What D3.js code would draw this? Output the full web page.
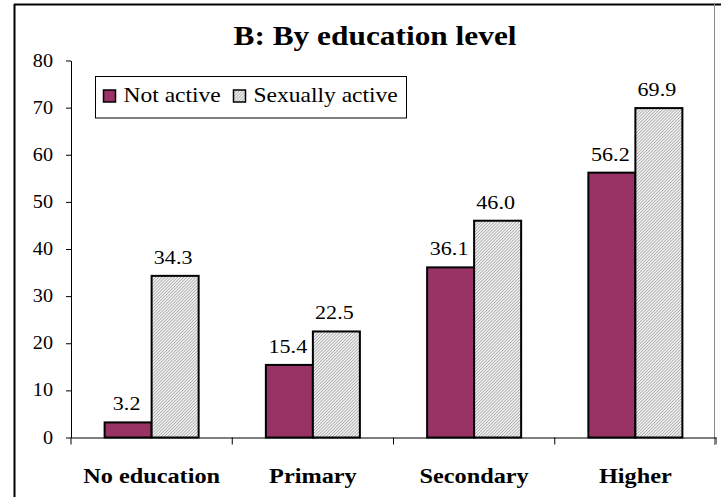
<!DOCTYPE html>
<html><head><meta charset="utf-8">
<script src="https://cdn.jsdelivr.net/npm/d3@7"></script>
<style>body{margin:0;background:#fff}svg{display:block}svg text{font-family:"Liberation Serif","Times New Roman",Times,serif}</style>
</head><body>
<svg id="c" width="721" height="497"></svg>
<script>
const categories = ["No education", "Primary", "Secondary", "Higher"];
const seriesNames = ["Not active", "Sexually active"];
const notActive = [3.2, 15.4, 36.1, 56.2];
const sexuallyActive = [34.3, 22.5, 46.0, 69.9];
const yTicks = [0, 10, 20, 30, 40, 50, 60, 70, 80];
const title = "B: By education level";

const SX = 1.12; // horizontal stretch of the reference text
const svg = d3.select("#c");
const defs = svg.append("defs");
const pat = defs.append("pattern").attr("id","hatch").attr("patternUnits","userSpaceOnUse")
  .attr("width",2.2).attr("height",2.2).attr("patternTransform","rotate(45)");
pat.append("rect").attr("width",2.2).attr("height",2.2).attr("fill","#efefef");
pat.append("rect").attr("width",0.7).attr("height",2.2).attr("fill","#a4a4a4");

function txt(parent, x, y, s, size, anchor, bold){
  return parent.append("text").attr("transform",`translate(${x},${y}) scale(${SX},1)`)
    .attr("text-anchor",anchor).attr("font-size",size).attr("font-weight",bold?"bold":"normal")
    .attr("fill","#000").text(s);
}

// frame
svg.append("line").attr("x1",14).attr("x2",721).attr("y1",4.5).attr("y2",4.5).attr("stroke","#000").attr("stroke-width",2);
svg.append("line").attr("x1",14.5).attr("x2",14.5).attr("y1",4).attr("y2",497).attr("stroke","#000").attr("stroke-width",2);
svg.append("line").attr("x1",714.5).attr("x2",714.5).attr("y1",4).attr("y2",445).attr("stroke","#888").attr("stroke-width",1);

const x0 = 71, x1 = 716, yTop = 60.5, yBot = 437.5;
const x = d3.scaleBand().domain(categories).range([x0, x1]).paddingInner(0).paddingOuter(0);
const xs = d3.scaleBand().domain(seriesNames).range([0, x.bandwidth()]).paddingInner(0).paddingOuter(0.715);
const y = d3.scaleLinear().domain([0, 80]).range([yBot, yTop]);

// title
txt(svg, 375, 45, title, 28, "middle", true);

// y axis
const yAxis = svg.append("g").attr("transform",`translate(${x0},0)`)
  .call(d3.axisLeft(y).tickValues(yTicks).tickSize(5).tickPadding(6).tickSizeOuter(0));
yAxis.select(".domain").attr("stroke","#000");
yAxis.selectAll("line").attr("stroke","#000");
yAxis.selectAll("text").remove();
yTicks.forEach(t=>{ txt(svg, x0-18, y(t)+6, String(t), 18, "end", false); });

// bars
const data = categories.map((c,i)=>({c, vals:[notActive[i], sexuallyActive[i]]}));
const g = svg.append("g");
data.forEach(d=>{
  d.vals.forEach((v,j)=>{
    const bx = x(d.c) + xs(seriesNames[j]);
    g.append("rect").attr("x",bx).attr("y",y(v)).attr("width",xs.bandwidth()).attr("height",yBot - y(v))
      .attr("fill", j===0 ? "#993366" : "url(#hatch)").attr("stroke","#000").attr("stroke-width",2);
    txt(g, bx + xs.bandwidth()/2 - (j===0 ? 1.5 : 2), y(v) - 12, v.toFixed(1), 19.7, "middle", false);
  });
});

// x axis
const xAxis = svg.append("g").attr("transform",`translate(0,${yBot})`)
  .call(d3.axisBottom(x).tickSize(0).tickPadding(0).tickFormat(""));
xAxis.select(".domain").attr("stroke","#000");
xAxis.selectAll(".tick").remove();
const bounds = categories.map(c=>x(c)).concat([x1]);
bounds.forEach(b=>{
  svg.append("line").attr("x1",b).attr("x2",b).attr("y1",yBot).attr("y2",yBot+7).attr("stroke","#000");
});
categories.forEach(c=>{ txt(svg, x(c)+x.bandwidth()/2, 483, c, 21.7, "middle", true); });

// legend
const lg = svg.append("g");
lg.append("rect").attr("x",95.5).attr("y",76.5).attr("width",311).attr("height",41.5).attr("fill","#fff").attr("stroke","#000");
const items = [{n:seriesNames[0], f:"#993366", x:103.5},{n:seriesNames[1], f:"url(#hatch)", x:233.5}];
items.forEach(it=>{
  lg.append("rect").attr("x",it.x).attr("y",90).attr("width",12).attr("height",12).attr("fill",it.f).attr("stroke","#000").attr("stroke-width",1.5);
  txt(lg, it.x+20, 102.3, it.n, 21, "start", false);
});
</script>
</body></html>
